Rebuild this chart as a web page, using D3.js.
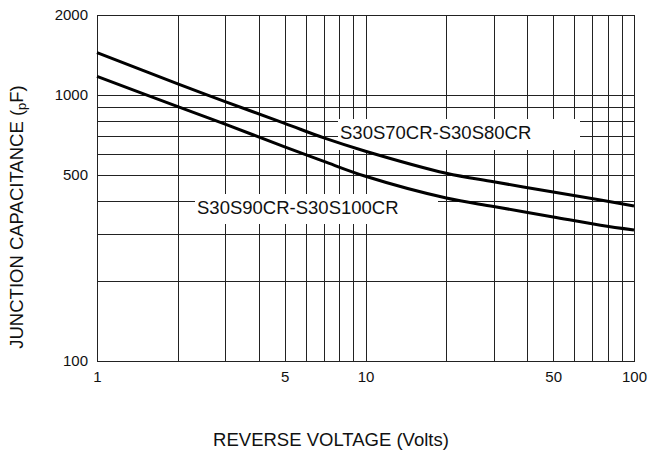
<!DOCTYPE html>
<html>
<head>
<meta charset="utf-8">
<script src="https://cdn.jsdelivr.net/npm/d3@7"></script>
<style>
  body { margin: 0; background: #fff; }
  svg { display: block; font-family: "Liberation Sans", Arial, sans-serif; }
</style>
</head>
<body>
<div class="canvas"></div>
<script>
// reverse voltage (V) and junction capacitance (pF)
const voltage = [1, 2, 3, 5, 7, 10, 20, 30, 50, 75, 100];
const capS70S80 = [1443, 1102, 945, 783, 690, 615, 508, 472, 432, 403, 383];
const capS90S100 = [1175, 905, 777, 639, 563, 495, 410, 381, 348, 324, 311];

const xTickLabels = [1, 5, 10, 50, 100];
const yTickLabels = [100, 500, 1000, 2000];
const xGrid = [2, 3, 4, 5, 6, 7, 8, 9, 10, 20, 30, 40, 50, 60, 70, 80, 90];
const yGrid = [200, 300, 400, 500, 600, 700, 800, 900, 1000];

const series = [
  { name: 'S30S70CR-S30S80CR', values: capS70S80 },
  { name: 'S30S90CR-S30S100CR', values: capS90S100 }
];

const dims = { width: 648, height: 452 };
const plot = { left: 97, right: 634, top: 15, bottom: 361 };

const svg = d3.select('.canvas')
  .append('svg')
  .attr('width', dims.width)
  .attr('height', dims.height);

const x = d3.scaleLog().domain([1, 100]).range([plot.left, plot.right]);
const y = d3.scaleLog().domain([100, 2000]).range([plot.bottom, plot.top]);

// grid
const grid = svg.append('g').attr('stroke', '#222').attr('stroke-width', 1);
grid.selectAll('.vg')
  .data(xGrid)
  .enter().append('line')
    .attr('x1', d => Math.round(x(d)) + 0.5)
    .attr('x2', d => Math.round(x(d)) + 0.5)
    .attr('y1', plot.top)
    .attr('y2', plot.bottom);
grid.selectAll('.hg')
  .data(yGrid)
  .enter().append('line')
    .attr('x1', plot.left)
    .attr('x2', plot.right)
    .attr('y1', d => Math.round(y(d)) + 0.5)
    .attr('y2', d => Math.round(y(d)) + 0.5);

// frame
svg.append('rect')
  .attr('x', plot.left + 0.5)
  .attr('y', plot.top + 0.5)
  .attr('width', plot.right - plot.left)
  .attr('height', plot.bottom - plot.top)
  .attr('fill', 'none')
  .attr('stroke', '#222')
  .attr('stroke-width', 1);

// axes labels
const xAxis = d3.axisBottom(x).tickValues(xTickLabels).tickFormat(d3.format('d')).tickSize(0).tickPadding(10);
svg.append('g')
  .attr('transform', `translate(0, ${plot.bottom})`)
  .call(xAxis)
  .call(g => g.select('.domain').remove())
  .selectAll('text')
    .attr('font-size', 15)
    .attr('font-family', '"Liberation Sans", Arial, sans-serif')
    .attr('fill', '#111');

const yAxis = d3.axisLeft(y).tickValues(yTickLabels).tickFormat(d3.format('d')).tickSize(0).tickPadding(9);
svg.append('g')
  .attr('transform', `translate(${plot.left}, 0)`)
  .call(yAxis)
  .call(g => g.select('.domain').remove())
  .selectAll('text')
    .attr('font-size', 15)
    .attr('font-family', '"Liberation Sans", Arial, sans-serif')
    .attr('fill', '#111');

// series labels with white boxes that cut the grid
const labels = [
  { text: series[0].name, box: [338, 119, 242, 31], tx: 340, ty: 139 },
  { text: series[1].name, box: [195, 194, 243, 30], tx: 197, ty: 214 }
];
labels.forEach(l => {
  svg.append('rect')
    .attr('x', l.box[0]).attr('y', l.box[1])
    .attr('width', l.box[2]).attr('height', l.box[3])
    .attr('fill', '#fff');
  svg.append('text')
    .attr('x', l.tx).attr('y', l.ty)
    .attr('font-size', 18.5)
    .attr('fill', '#111')
    .text(l.text);
});

// curves
const line = d3.line()
  .x((d, i) => x(voltage[i]))
  .y(d => y(d))
  .curve(d3.curveCatmullRom.alpha(0.5));

svg.selectAll('.curve')
  .data(series)
  .enter().append('path')
    .attr('class', 'curve')
    .attr('d', d => line(d.values))
    .attr('fill', 'none')
    .attr('stroke', '#000')
    .attr('stroke-width', 3);

// titles
svg.append('text')
  .attr('x', 331)
  .attr('y', 446)
  .attr('text-anchor', 'middle')
  .attr('font-size', 18.5)
  .attr('fill', '#111')
  .text('REVERSE VOLTAGE (Volts)');

const yTitle = svg.append('text')
  .attr('transform', 'translate(23, 217) rotate(-90)')
  .attr('text-anchor', 'middle')
  .attr('font-size', 18.5)
  .attr('fill', '#111');
yTitle.append('tspan').text('JUNCTION CAPACITANCE (');
yTitle.append('tspan').attr('font-size', 13).attr('dy', 3).text('p');
yTitle.append('tspan').attr('dy', -3).text('F)');
</script>
</body>
</html>
